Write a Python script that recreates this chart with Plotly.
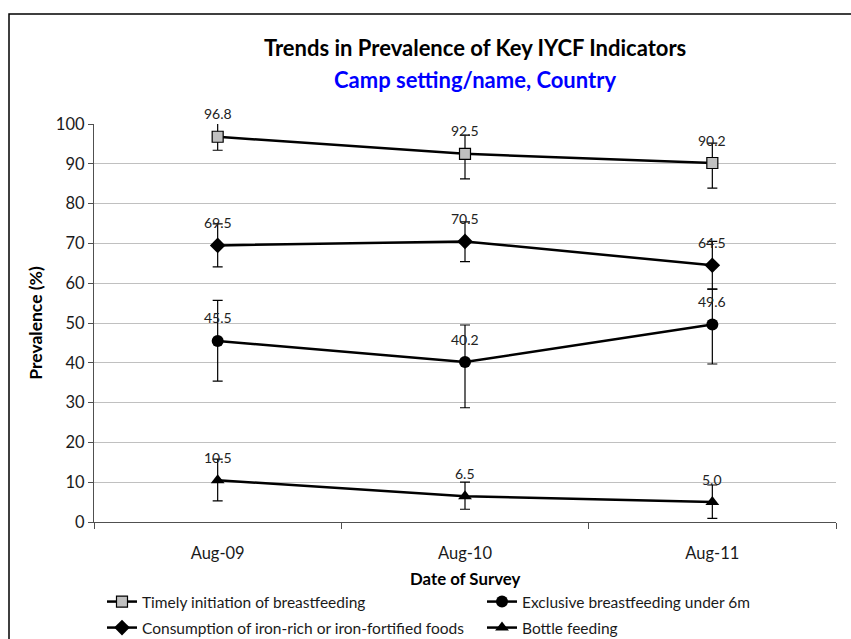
import plotly.graph_objects as go

# ---------------- data ----------------
categories = ["Aug-09", "Aug-10", "Aug-11"]

timely = [96.8, 92.5, 90.2]
timely_err_plus = [5.0, 4.7, 5.0]
timely_err_minus = [3.4, 6.3, 6.3]

exclusive = [45.5, 40.2, 49.6]
exclusive_err_plus = [10.2, 9.3, 8.9]
exclusive_err_minus = [10.1, 11.5, 9.9]

iron = [69.5, 70.5, 64.5]
iron_err_plus = [5.4, 4.9, 6.0]
iron_err_minus = [5.4, 5.1, 6.0]

bottle = [10.5, 6.5, 5.0]
bottle_err_plus = [5.3, 3.5, 4.3]
bottle_err_minus = [5.2, 3.3, 4.1]

series_names = [
    "Timely initiation of breastfeeding",
    "Exclusive breastfeeding under 6m",
    "Consumption of iron-rich or iron-fortified foods",
    "Bottle feeding",
]

title_text = "Trends in Prevalence of Key IYCF Indicators"
subtitle_text = "Camp setting/name, Country"
y_title = "Prevalence (%)"
x_title = "Date of Survey"
y_ticks = [0, 10, 20, 30, 40, 50, 60, 70, 80, 90, 100]

FONT = "Lato, 'Open Sans', sans-serif"
W, H = 851, 639

# plot area in pixels (layout helpers)
PL, PR, PT, PB = 94, 836, 124, 522
PW, PH = PR - PL, PB - PT


def py(ypx):
    return (PB - ypx) / PH


def px(xpx):
    return (xpx - PL) / PW


# ---------------- figure ----------------
fig = go.Figure()

specs = [
    (series_names[0], timely, timely_err_plus, timely_err_minus,
     dict(symbol="square", size=11, color="#C0C0C0", line=dict(color="#000000", width=1.2)), "legend"),
    (series_names[1], exclusive, exclusive_err_plus, exclusive_err_minus,
     dict(symbol="circle", size=12, color="#000000"), "legend2"),
    (series_names[2], iron, iron_err_plus, iron_err_minus,
     dict(symbol="diamond", size=12, color="#000000"), "legend3"),
    (series_names[3], bottle, bottle_err_plus, bottle_err_minus,
     dict(symbol="triangle-up", size=12, color="#000000"), "legend4"),
]

for name, vals, ep, em, marker, leg in specs:
    fig.add_trace(go.Scatter(
        x=categories, y=vals, name=name, mode="lines+markers",
        line=dict(color="#000000", width=2.5),
        marker=marker,
        error_y=dict(type="data", symmetric=False, array=ep, arrayminus=em,
                     color="#000000", thickness=1.2, width=5),
        legend=leg,
    ))
    for c, v in zip(categories, vals):
        fig.add_annotation(x=c, y=v, text=f"{v:.1f}", showarrow=False,
                           yshift=23, font=dict(family=FONT, size=14, color="#222222"))

# titles
fig.add_annotation(xref="paper", yref="paper", x=px(475), y=py(47),
                   text=f"<b>{title_text}</b>", showarrow=False, yanchor="middle",
                   font=dict(family=FONT, size=22, color="#000000"))
fig.add_annotation(xref="paper", yref="paper", x=px(475), y=py(79),
                   text=f"<b>{subtitle_text}</b>", showarrow=False, yanchor="middle",
                   font=dict(family=FONT, size=22, color="#0000FF"))
# x-axis title
fig.add_annotation(xref="paper", yref="paper", x=0.5, y=py(578),
                   text=f"<b>{x_title}</b>", showarrow=False, yanchor="middle",
                   font=dict(family=FONT, size=16.8, color="#000000"))

# outer chart border
fig.add_shape(type="rect", xref="paper", yref="paper",
              x0=px(9), x1=px(870), y0=py(680), y1=py(14),
              line=dict(color="#000000", width=1.5), fillcolor="rgba(0,0,0,0)")


def leg(xpx, ypx):
    return dict(orientation="h", xref="container", yref="container",
                x=xpx / W, y=1 - ypx / H, xanchor="left", yanchor="middle",
                font=dict(family=FONT, size=15.5, color="#1a1a1a"),
                bgcolor="rgba(0,0,0,0)")


fig.update_layout(
    width=W, height=H,
    margin=dict(l=PL, r=W - PR, t=PT, b=H - PB, autoexpand=False),
    paper_bgcolor="white", plot_bgcolor="white",
    font=dict(family=FONT, size=16, color="#1a1a1a"),
    showlegend=True,
    legend=leg(102, 602),
    legend2=leg(482, 602),
    legend3=leg(102, 628),
    legend4=leg(482, 628),
)

fig.update_xaxes(
    type="category", range=[-0.5, 2.5], automargin=False,
    showline=True, linecolor="#505050", linewidth=1.3,
    ticks="outside", ticklen=6, tickcolor="#505050", tickwidth=1.2,
    tickson="boundaries", showgrid=False, zeroline=False,
    ticklabelstandoff=16,
    tickfont=dict(family=FONT, size=16.5, color="#1a1a1a"),
)
fig.update_yaxes(
    range=[0, 100], tickvals=y_ticks, automargin=False,
    showline=True, linecolor="#505050", linewidth=1.3,
    ticks="outside", ticklen=5, tickcolor="#505050", tickwidth=1.2,
    showgrid=True, gridcolor="#C0C0C0", gridwidth=1, zeroline=False,
    tickfont=dict(family=FONT, size=16.5, color="#1a1a1a"),
    title=dict(text=f"<b>{y_title}</b>", standoff=8,
               font=dict(family=FONT, size=17.5, color="#000000")),
)

fig.write_html("out.html", config={"displayModeBar": False},
               post_script="document.body.style.margin='0';document.body.style.overflow='hidden';")
